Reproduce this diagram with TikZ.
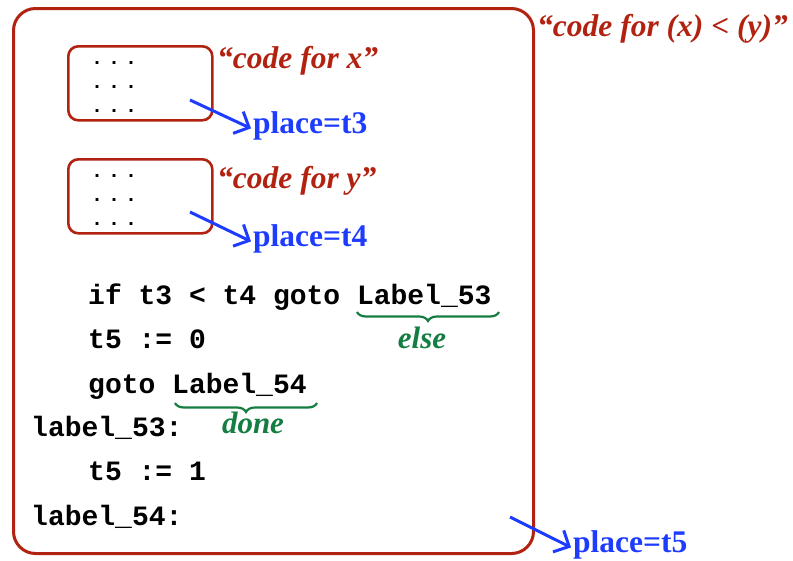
\documentclass[tikz,border=0pt]{standalone}
\usepackage{fontspec}
\setmainfont{Liberation Serif}
\newfontfamily\codefont{Liberation Mono}
\usetikzlibrary{arrows.meta,decorations.pathreplacing}
\definecolor{boxred}{RGB}{178,34,16}
\definecolor{placeblue}{RGB}{30,60,255}
\definecolor{notegreen}{RGB}{20,125,65}
\newcommand{\elided}{.\kern5pt.\kern5pt.}
\tikzset{
  frame/.style={draw=boxred, line width=3pt, rounded corners=22pt, inner sep=0pt},
  subframe/.style={draw=boxred, line width=2.6pt, rounded corners=10pt, inner sep=0pt,
    anchor=north west, minimum width=144pt, minimum height=74pt},
  code/.style={anchor=base west, inner sep=0pt, font=\codefont\bfseries\fontsize{28}{28}\selectfont},
  dotlines/.style={anchor=south west, inner sep=0pt, align=left,
    font=\codefont\bfseries\fontsize{20}{24}\selectfont},
  note/.style={anchor=base west, inner sep=0pt, text=boxred,
    font=\bfseries\itshape\fontsize{31.5}{31.5}\selectfont},
  place/.style={anchor=base west, inner sep=0pt, text=placeblue,
    font=\bfseries\fontsize{31.5}{31.5}\selectfont},
  branch/.style={anchor=base, inner sep=0pt, text=notegreen,
    font=\bfseries\itshape\fontsize{31}{31}\selectfont},
  placearrow/.style={draw=placeblue, line width=3pt,
    -{Straight Barb[length=12pt,width=24pt,line width=3pt]}},
  bracket/.style={draw=notegreen, line width=2.2pt, decorate,
    decoration={brace, mirror, amplitude=9pt}}
}
\begin{document}
\begin{tikzpicture}[x=1pt, y=-1pt]
  \useasboundingbox (0,0) rectangle (793,560);

  % enclosing block for the whole comparison
  \node[frame, anchor=north west, minimum width=520pt, minimum height=545pt] (whole) at (12,7) {};
  \node[note] (notexy) at (537,36) {“code for (x) < (y)”};

  % sub-blocks for the two operands
  \node[subframe] (boxx) at (67,45) {};
  \node[subframe] (boxy) at (67,158) {};
  \node[dotlines] (dotsx) at (91,113) {\elided\\\elided\\\elided};
  \node[dotlines] (dotsy) at (91,226) {\elided\\\elided\\\elided};
  \node[note] (notex) at (217,68) {“code for x”};
  \node[note] (notey) at (217,188) {“code for y”};

  \node[place] (pt3) at (253,133) {place=t3};
  \node[place] (pt4) at (253,246) {place=t4};
  \node[place] (pt5) at (573,552) {place=t5};

  \coordinate (fromx) at (190,100);
  \coordinate (fromy) at (190,212);
  \coordinate (fromall) at (510,517);
  \draw[placearrow] (fromx) -- ([xshift=-2pt,yshift=-3pt]pt3.west);
  \draw[placearrow] (fromy) -- ([xshift=-2pt,yshift=-3pt]pt4.west);
  \draw[placearrow] (fromall) -- ([xshift=-2pt,yshift=-3pt]pt5.west);

  % three-address code
  \node[code] (l1) at (88,304) {if t3 < t4 goto Label\_53};
  \node[code] (l2) at (88,348) {t5 := 0};
  \node[code] (l3) at (88,393) {goto Label\_54};
  \node[code] (l4) at (31,436) {label\_53:};
  \node[code] (l5) at (88,480) {t5 := 1};
  \node[code] (l6) at (31,525) {label\_54:};

  % branch targets
  \coordinate (b1a) at (357,312);
  \coordinate (b1b) at (499,312);
  \coordinate (b2a) at (175,403);
  \coordinate (b2b) at (317,403);
  \draw[bracket] (b1a) -- (b1b);
  \draw[bracket] (b2a) -- (b2b);
  \node[branch] (else) at (422,348) {else};
  \node[branch] (done) at (253,433) {done};
\end{tikzpicture}
\end{document}
